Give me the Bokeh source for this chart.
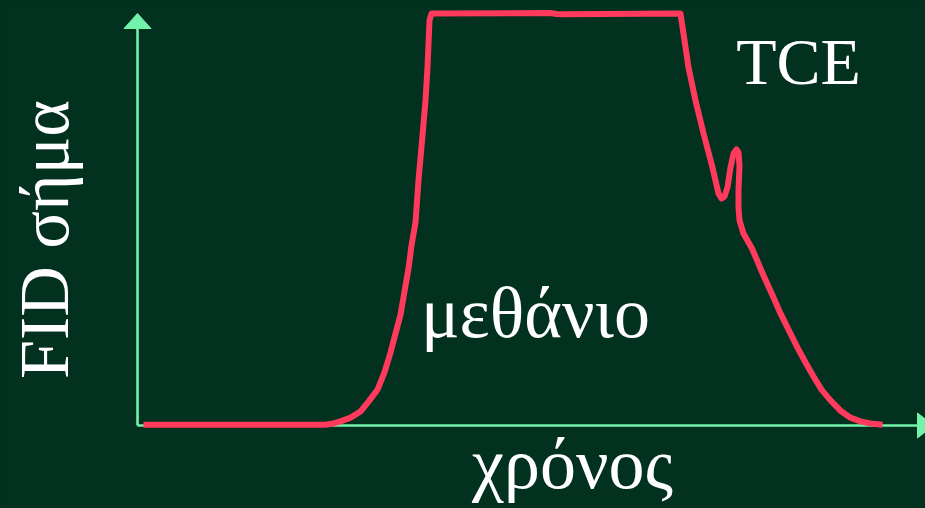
import numpy as np
from bokeh.plotting import figure
from bokeh.models import Range1d, Label
from bokeh.embed import file_html
from bokeh.resources import INLINE

# ---- data (time in arbitrary units, FID signal in % of max) ----
time = [0.12, 3.76, 3.92, 4.06, 4.26, 4.46, 4.62, 4.80, 4.94, 5.06, 5.16, 5.26, 5.34,
        5.42, 5.48, 5.56, 5.62, 5.70, 5.76, 5.80, 5.84, 5.88,
        8.26, 8.38, 8.50, 10.86, 10.92, 11.02, 11.16, 11.32, 11.50, 11.62, 11.68,
        11.74, 11.80, 11.86, 11.92, 11.98, 12.02, 12.04, 12.02, 12.02, 12.04, 12.12,
        12.30, 12.52, 12.70, 12.86, 13.04, 13.20, 13.36, 13.52, 13.68, 13.86, 14.06,
        14.26, 14.46, 14.66, 14.90]
signal = [0.2, 0.2, 0.5, 1.0, 1.9, 3.4, 5.8, 8.7, 12.9, 17.7, 22.3, 26.9, 32.5,
          38.1, 43.7, 49.3, 59.5, 70.4, 78.9, 86.9, 98.3, 100.0,
          100.1, 99.9, 99.8, 100.0, 95.1, 86.9, 78.9, 70.9, 62.6, 56.3, 55.1,
          55.6, 57.8, 62.6, 66.0, 67.0, 66.3, 63.1, 57.0, 52.9, 49.8, 46.6,
          42.7, 36.4, 31.6, 27.2, 22.8, 18.9, 15.3, 11.9, 8.7, 6.1, 3.6,
          1.9, 1.0, 0.5, 0.2]

x_label = "χρόνος"
y_label = "FID σήμα"
peak_labels = ["μεθάνιο", "TCE"]

BG = "#03311f"
AXIS = "#72f2ab"
RED = "#ff3a5c"
FONT = "Liberation Serif"

# pixel <-> data mapping (page pixels)
OX, OY = 137, 425      # axis origin on page
SX, SY = 50.0, 4.12    # px per unit
W, H = 925, 508

def dx(px):
    return (px - OX) / SX

def dy(py):
    return (OY - py) / SY

p = figure(width=W, height=H, output_backend="svg", toolbar_location=None,
           x_range=Range1d(dx(0), dx(W)), y_range=Range1d(dy(H), dy(0)),
           min_border=0, background_fill_color=BG, border_fill_color=BG,
           outline_line_color=None)
p.axis.visible = False
p.grid.visible = False

# axes with arrows
x_end = dx(W)
y_top = dy(13)
p.segment(x0=[0, 0], y0=[0, 0], x1=[x_end, 0], y1=[0, y_top - 10 / SY],
          line_color=AXIS, line_width=2.6)
# y arrow head
yb = dy(28)
p.patch([-13.5 / SX, 0, 13.5 / SX], [yb, y_top, yb], fill_color=AXIS, line_color=AXIS, line_width=1)
# x arrow head (tip runs past the right edge)
xb = dx(917)
xt = dx(933)
p.patch([xb, xt, xb], [12.5 / SY, 0, -12.5 / SY], fill_color=AXIS, line_color=AXIS, line_width=1)

# signal curve
p.line(time, signal, line_color=RED, line_width=6, line_join="round", line_cap="butt")

# labels
p.add_layout(Label(x=dx(798), y=dy(61), text=peak_labels[1], text_font=FONT, text_font_size="66px",
                   text_color="white", text_align="center", text_baseline="alphabetic"))
p.add_layout(Label(x=dx(535), y=dy(312), text=peak_labels[0], text_font=FONT, text_font_size="72px",
                   text_color="white", text_align="center", text_baseline="alphabetic"))
p.add_layout(Label(x=dx(572), y=dy(463), text=x_label, text_font=FONT, text_font_size="72px",
                   text_color="white", text_align="center", text_baseline="alphabetic"))
p.add_layout(Label(x=dx(44), y=dy(239), text=y_label, text_font=FONT, text_font_size="70px",
                   text_color="white", text_align="center", text_baseline="alphabetic",
                   angle=np.pi / 2))

html = file_html(p, INLINE)
html = html.replace("</head>", "<style>body{background-color:%s;}</style></head>" % BG, 1)
open("out.html", "w").write(html)
